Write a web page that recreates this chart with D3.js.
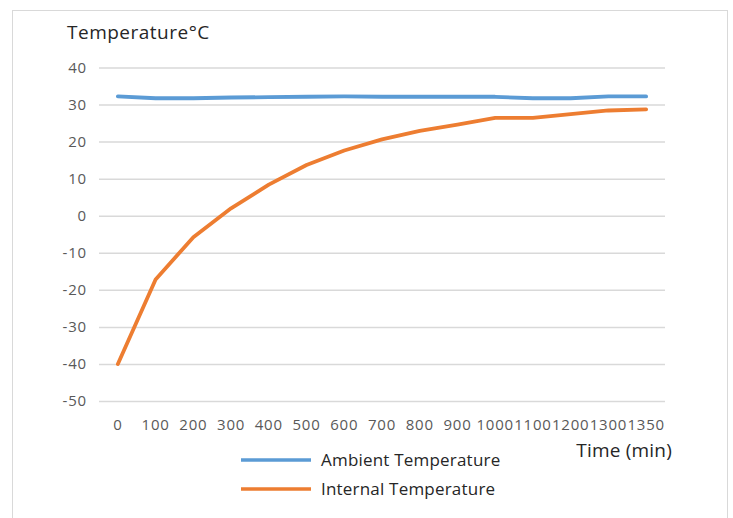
<!DOCTYPE html>
<html>
<head>
<meta charset="utf-8">
<script src="https://cdn.jsdelivr.net/npm/d3@7/dist/d3.min.js"></script>
<style>
  html, body { margin: 0; padding: 0; background: #fff; }
  svg { display: block; }
</style>
</head>
<body>
<svg id="chart" width="733" height="518"></svg>
<script>
const categories = ["0","100","200","300","400","500","600","700","800","900","1000","1100","1200","1300","1350"];
const ambient  = [32.2, 31.7, 31.7, 31.9, 32.0, 32.1, 32.2, 32.1, 32.1, 32.1, 32.1, 31.7, 31.7, 32.2, 32.2];
const internal = [-40, -17.2, -5.8, 2.0, 8.4, 13.7, 17.6, 20.6, 22.9, 24.6, 26.4, 26.4, 27.4, 28.4, 28.7];
const yTicks = [40, 30, 20, 10, 0, -10, -20, -30, -40, -50];
const seriesNames = ["Ambient Temperature", "Internal Temperature"];
const colors = ["#5B9BD5", "#ED7D31"];

(function () {
const svg = d3.select("#chart");
const FONT = "'Open Sans', sans-serif";

// outer border
svg.append("rect")
  .attr("x", 12.5).attr("y", 10.5)
  .attr("width", 715).attr("height", 520)
  .attr("fill", "none").attr("stroke", "#d9d9d9").attr("stroke-width", 1);

const pLeft = 99, pRight = 665, pTop = 67.5, pBottom = 401;

const x = d3.scaleBand().domain(categories).range([pLeft, pRight]);
const y = d3.scaleLinear().domain([-50, 40]).range([pBottom, pTop]);

// gridlines + y labels
const yAxis = d3.axisLeft(y).tickValues(yTicks).tickFormat(d => String(d))
  .tickSize(-(pRight - pLeft)).tickPadding(12);
const gy = svg.append("g").attr("transform", `translate(${pLeft},0)`).call(yAxis);
gy.select(".domain").remove();
gy.selectAll(".tick line").attr("stroke", "#d9d9d9").attr("stroke-width", 1.5);
gy.selectAll(".tick text")
  .attr("fill", "#595959")
  .attr("font-family", FONT)
  .attr("font-size", 15)
  .attr("letter-spacing", 0.8);

// x axis labels
const xAxis = d3.axisBottom(x).tickSize(0).tickPadding(18);
const gx = svg.append("g").attr("transform", `translate(0,${pBottom})`).call(xAxis);
gx.select(".domain").remove();
gx.selectAll(".tick text")
  .attr("fill", "#595959")
  .attr("font-family", FONT)
  .attr("font-size", 15)
  .attr("letter-spacing", 0.8);

// lines
const line = d3.line()
  .x((d, i) => x(categories[i]) + x.bandwidth() / 2)
  .y(d => y(d));

[ambient, internal].forEach((s, k) => {
  svg.append("path")
    .datum(s)
    .attr("fill", "none")
    .attr("stroke", colors[k])
    .attr("stroke-width", 3.8)
    .attr("stroke-linecap", "round")
    .attr("stroke-linejoin", "round")
    .attr("d", line);
});

// titles
svg.append("text")
  .attr("x", 67).attr("y", 39)
  .attr("fill", "#262626")
  .attr("font-family", FONT)
  .attr("font-size", 19)
  .attr("letter-spacing", 0.5)
  .text("Temperature°C");

svg.append("text")
  .attr("x", 672).attr("y", 457)
  .attr("text-anchor", "end")
  .attr("fill", "#262626")
  .attr("font-family", FONT)
  .attr("font-size", 19)
  .attr("letter-spacing", 0.2)
  .text("Time (min)");

// legend
const lg = svg.append("g");
seriesNames.forEach((name, k) => {
  const ly = 460 + k * 29;
  lg.append("line")
    .attr("x1", 241).attr("x2", 311)
    .attr("y1", ly).attr("y2", ly)
    .attr("stroke", colors[k]).attr("stroke-width", 3.4);
  lg.append("text")
    .attr("x", 321).attr("y", ly + 6)
    .attr("fill", "#262626")
    .attr("font-family", FONT)
    .attr("font-size", 17)
    .attr("letter-spacing", 0.2)
    .text(name);
});
})();
</script>
</body>
</html>
